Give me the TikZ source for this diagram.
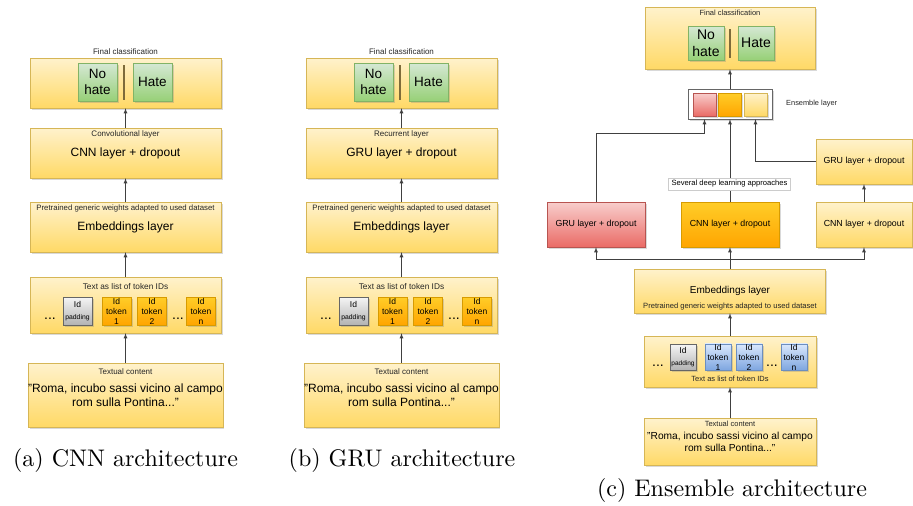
\documentclass[tikz,border=0pt]{standalone}
\usepackage{fontspec}
\setsansfont{Liberation Sans}
\newfontfamily\capfont{lmroman10-regular.otf}
\usetikzlibrary{shadows,positioning}

\definecolor{ytop}{HTML}{FFF2CC}
\definecolor{ybot}{HTML}{FFD966}
\definecolor{yline}{HTML}{D6B656}
\definecolor{gtop}{HTML}{D5E8D4}
\definecolor{gbot}{HTML}{97D077}
\definecolor{gline}{HTML}{82B366}
\definecolor{rtop}{HTML}{F8CECC}
\definecolor{rbot}{HTML}{EA6B66}
\definecolor{rline}{HTML}{B85450}
\definecolor{otop}{HTML}{FFCD28}
\definecolor{obot}{HTML}{FFA500}
\definecolor{oline}{HTML}{D79B00}
\definecolor{btop}{HTML}{DAE8FC}
\definecolor{bbot}{HTML}{7EA6E0}
\definecolor{bline}{HTML}{6C8EBF}
\definecolor{ptop}{HTML}{F5F5F5}
\definecolor{pbot}{HTML}{B3B3B3}
\definecolor{pline}{HTML}{666666}
\definecolor{sepline}{HTML}{7D6B3A}

\begin{document}
\begin{tikzpicture}[x=1pt,y=-1pt,>=latex,
    shade box/.style={inner sep=0pt,align=center,font=\sffamily,
        drop shadow={shadow xshift=1.5pt,shadow yshift=-1.8pt,opacity=0.3}},
    ybox/.style={shade box,draw=yline,top color=ytop,bottom color=ybot},
    gbox/.style={shade box,draw=gline,top color=gtop,bottom color=gbot},
    rbox/.style={shade box,draw=rline,top color=rtop,bottom color=rbot},
    obox/.style={shade box,draw=oline,top color=otop,bottom color=obot},
    bbox/.style={shade box,draw=bline,top color=btop,bottom color=bbot},
    pbox/.style={shade box,draw=pline,top color=ptop,bottom color=pbot},
    lbl/.style={inner sep=0pt,text=black!85,font=\sffamily\fontsize{8}{9.6}\selectfont},
    tokfont/.style={font=\sffamily\fontsize{8.5}{10}\selectfont},
    dots/.style={inner sep=0pt,font=\sffamily\fontsize{14}{14}\selectfont},
    link/.style={->,draw=black!75,line width=0.8pt},
    caption/.style={inner sep=0pt,font=\capfont\fontsize{24}{28}\selectfont}]
\useasboundingbox (0,0) rectangle (913,506);

% CNN and GRU architectures
\foreach \px/\kind/\layer/\net in {125.5/a/Convolutional layer/CNN, 401.5/b/Recurrent layer/GRU} {
    % final classification
    \node[ybox,minimum width=191pt,minimum height=50pt] (top-\kind) at (\px,83) {};
    \node[lbl,anchor=south] at ([yshift=3pt]top-\kind.north) {Final classification};
    \node[gbox,minimum width=39pt,minimum height=38pt,font=\sffamily\fontsize{13.5}{16.5}\selectfont]
        (nohate-\kind) at (\px-28,82) {No\\hate};
    \node[gbox,minimum width=39pt,minimum height=38pt,font=\sffamily\fontsize{13.5}{16.5}\selectfont]
        (hate-\kind) at (\px+27,82) {Hate};
    \draw[sepline,line width=1.2pt] (\px-1.5,65) -- (\px-1.5,100);

    % network layer
    \node[ybox,minimum width=191pt,minimum height=50pt,font=\sffamily\fontsize{12}{14}\selectfont]
        (mid-\kind) at (\px,153) {\net{} layer + dropout};
    \node[lbl] at ([yshift=-7pt]mid-\kind.north) {\layer};

    % embeddings
    \node[ybox,minimum width=191pt,minimum height=50pt,font=\sffamily\fontsize{12}{14}\selectfont]
        (emb-\kind) at (\px,227) {Embeddings layer};
    \node[lbl,font=\sffamily\fontsize{7.8}{9}\selectfont] at ([yshift=-7pt]emb-\kind.north)
        {Pretrained generic weights adapted to used dataset};

    % token ids
    \node[ybox,minimum width=191pt,minimum height=56pt] (tok-\kind) at (\px,305) {};
    \node[lbl,font=\sffamily\fontsize{8.3}{10}\selectfont] at ([yshift=-10pt]tok-\kind.north)
        {Text as list of token IDs};
    \node[dots] (dots1-\kind) at (\px-75.5,319) {...};
    \node[pbox,minimum width=29pt,minimum height=28pt] (pad-\kind) at (\px-48,311)
        {{\fontsize{8.5}{10}\selectfont Id}\\{\fontsize{6.8}{9}\selectfont padding}};
    \foreach \dx/\num in {-9/1, 26.5/2, 75.5/n}
        \node[obox,minimum width=29pt,minimum height=28pt,tokfont] (tk\num-\kind) at (\px+\dx,311)
            {Id\\token\\\num};
    \node[dots] (dots2-\kind) at (\px+52.5,319) {...};

    % textual content
    \node[ybox,minimum width=191pt,minimum height=64pt,font=\sffamily\fontsize{12}{14}\selectfont]
        (txt-\kind) at (\px,395) {"Roma, incubo sassi vicino al campo\\rom sulla Pontina..."};
    \node[lbl] at ([yshift=-9pt]txt-\kind.north) {Textual content};

    % arrows
    \draw[link] (txt-\kind.north) -- (tok-\kind.south);
    \draw[link] (tok-\kind.north) -- (emb-\kind.south);
    \draw[link] (emb-\kind.north) -- (mid-\kind.south);
    \draw[link] (mid-\kind.north) -- (top-\kind.south);
}

% ensemble architecture
\node[ybox,minimum width=170pt,minimum height=62pt] (top-c) at (730,38) {};
\node[lbl,font=\sffamily\fontsize{7.5}{9}\selectfont] at ([yshift=-6pt]top-c.north) {Final classification};
\node[gbox,minimum width=36pt,minimum height=34pt,font=\sffamily\fontsize{14}{17}\selectfont]
    (nohate-c) at (706,43) {No\\hate};
\node[gbox,minimum width=36pt,minimum height=34pt,font=\sffamily\fontsize{14}{17}\selectfont]
    (hate-c) at (756,43) {Hate};
\draw[sepline,line width=1.2pt] (730,29) -- (730,58);

% ensemble layer
\node[shade box,draw=pline,fill=white,minimum width=84pt,minimum height=30pt] (ens) at (730,104) {};
\node[rbox,minimum size=23pt] (sq1) at (704.5,104.5) {};
\node[obox,minimum size=23pt] (sq2) at (730,104.5) {};
\node[ybox,minimum size=23pt] (sq3) at (755.5,104.5) {};
\node[lbl,anchor=west,font=\sffamily\fontsize{7.4}{9}\selectfont] (ens-lbl) at (786,104) {Ensemble layer};

% deep learning approaches
\node[rbox,minimum width=98pt,minimum height=45pt,font=\sffamily\fontsize{8.8}{10}\selectfont]
    (gru-c) at (596,224.5) {GRU layer + dropout};
\node[obox,minimum width=98pt,minimum height=45pt,font=\sffamily\fontsize{8.8}{10}\selectfont]
    (cnn-c) at (730,224.5) {CNN layer + dropout};
\node[ybox,minimum width=96pt,minimum height=45pt,font=\sffamily\fontsize{8.8}{10}\selectfont]
    (cnn-r) at (864,224.5) {CNN layer + dropout};
\node[ybox,minimum width=96pt,minimum height=45pt,font=\sffamily\fontsize{8.8}{10}\selectfont]
    (gru-r) at (864,161.5) {GRU layer + dropout};

% embeddings
\node[ybox,minimum width=191pt,minimum height=44pt,font=\sffamily\fontsize{10}{12}\selectfont]
    (emb-c) at (730,291) {Embeddings layer};
\node[lbl,font=\sffamily\fontsize{7.6}{9}\selectfont] at ([yshift=7pt]emb-c.south)
    {Pretrained generic weights adapted to used dataset};

% token ids
\node[ybox,minimum width=172pt,minimum height=51pt] (tok-c) at (730,361.5) {};
\node[lbl,font=\sffamily\fontsize{7.5}{9}\selectfont] at ([yshift=8pt]tok-c.south) {Text as list of token IDs};
\node[dots] (dots1-c) at (658,366) {...};
\node[pbox,minimum width=26pt,minimum height=26pt] (pad-c) at (683,357)
    {{\fontsize{8.5}{10}\selectfont Id}\\{\fontsize{6.5}{9}\selectfont padding}};
\foreach \x/\num in {718/1, 749/2, 794/n}
    \node[bbox,minimum width=26pt,minimum height=26pt,tokfont] (tk\num-c) at (\x,357) {Id\\token\\\num};
\node[dots] (dots2-c) at (772,366) {...};

% textual content
\node[ybox,minimum width=172pt,minimum height=47pt,font=\sffamily\fontsize{10.2}{12.5}\selectfont]
    (txt-c) at (730,442) {"Roma, incubo sassi vicino al campo\\rom sulla Pontina..."};
\node[lbl,font=\sffamily\fontsize{7.5}{9}\selectfont] at ([yshift=-6pt]txt-c.north) {Textual content};

% arrows
\coordinate (bus) at (730,259);
\coordinate (gru-bend) at (596,133);
\draw[link] (txt-c.north) -- (tok-c.south);
\draw[link] (tok-c.north) -- (emb-c.south);
\draw[link] (emb-c.north) -- (bus) -| (gru-c.south);
\draw[link] (bus) -- (cnn-c.south);
\draw[link] (bus) -| (cnn-r.south);
\draw[link] (cnn-r.north) -- (gru-r.south);
\draw[link] (gru-c.north) -- (gru-bend) -| (sq1 |- ens.south);
\draw[link] (cnn-c.north) -- (cnn-c.north |- ens.south);
\draw[link] (gru-r.west) -| (sq3 |- ens.south);
\draw[link] (ens.north) -- (top-c.south);
\node[draw=black!20,fill=white,inner xsep=3pt,inner ysep=0pt,minimum height=12pt,
    font=\sffamily\fontsize{7.6}{9}\selectfont] (deep-lbl) at (729.5,184) {Several deep learning approaches};

% captions
\node[caption] (cap-a) at (125.5,460) {(a) CNN architecture};
\node[caption] (cap-b) at (402,460) {(b) GRU architecture};
\node[caption] (cap-c) at (732,490) {(c) Ensemble architecture};
\end{tikzpicture}
\end{document}
